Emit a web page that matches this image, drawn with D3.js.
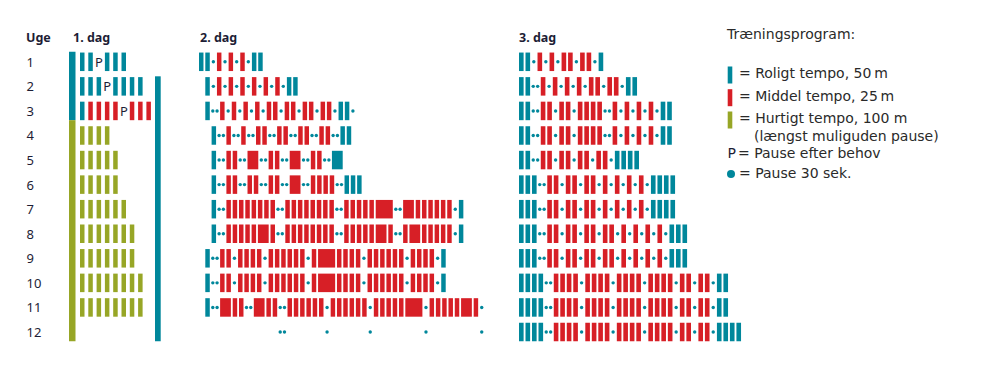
<!DOCTYPE html>
<html><head><meta charset="utf-8">
<script src="https://cdn.jsdelivr.net/npm/d3@7"></script>
<style>body{margin:0;background:#fff}svg{display:block}</style>
</head><body>
<svg id="c" width="994" height="368"></svg>
<script>
// ---------- DATA ----------
const weeks = [1,2,3,4,5,6,7,8,9,10,11,12];
const weekLabel = "Uge";
const dayTitles = ["1. dag","2. dag","3. dag"];
// b = roligt (blue), r = middel (red), g = hurtigt (green), P = pause efter behov
// uppercase = bar merged with previous bar, . = pause 30 sek, x = empty slot, space = empty pause
const day1Rows = ["bbPbbb","bbbPbbbb","brrrrPrrr","gggg","ggggg","ggggg","gggggg","ggggggg","ggggggg","gggggggg","gggggggg",""];
const day1LeftSpans = [{t:"b",from:1,to:3},{t:"g",from:4,to:12}];
const day1RightSpans = [{t:"b",from:2,to:12}];
const day2Rows = [
  "bb.r.r.r.bb",
  "xb.r.r.r.r.r.r.bb",
  "xb..r.r.r.r.rr.rr.rr.rr.bb.",
  "xxb..r..r..rr..rr..rr..rr..bb",
  "xxb..rr..rR..rr..rR..rr..bB",
  "xxb..rr..rr..rr..rR..rrrr..bbb",
  "xxb..rrrrrrrr..rrrrrrrr..rrrrrrRR..rRrrrrrr.b",
  "xxb..rrrrrrRr..rrrrrrrr..rrrrrrRr..rrRrrrrr.b",
  "xb..rr.rrrr.rrrrrr.rrRRrrrr.rrrrrr.rrrr.b",
  "xb..rr.rrrr.rrrrrr.rrRRrrrr.rrrrrr.rrrr.b",
  "xb..rRrr..rRrr..rrrrrr.rrrrrr.rrrrrrRR.rrrrrrRr.",
  "xx  xxxx  xxxx..xxxxxx.xxxxxx.xxxxxxxx.xxxxxxxx."
];
const day3Rows = [
  "bb.r.r.rr.rr.b",
  "bb..r.r.r.r.rr.rr.bb",
  "bb..rr.rr.rrrr..r.r.r.r.bb",
  "bb..rr.rr.rrrr..r.r.r.r.bb",
  "bb..rr.rr.rr.rr.bbbb",
  "bbb..rr.rr.rr.r.r.r.r.bbbb",
  "bbb..rr.rr.rr.r.r.r.r.bbbb",
  "bbb..rr.rr.rr.rr.r.r.r.r.bbb",
  "bbb..rr.rr.rr.rr.r.r.r.r.bbb",
  "bbbb..rrrr.rrrr.rrrr.rrrr.rr.rr.bb",
  "bbbb..rrrr.rrrr.rrrr.rrrr.rr.rr.bb",
  "bbbb..rrrr.rrrr.rrrr.rrrr.rr.rr.bbbb"
];
const legendTitle = "Træningsprogram:";
const legendKeys = ["b","r","g","P","dot"];
const legendLabels = ["= Roligt tempo, 50\u2009m","= Middel tempo, 25\u2009m","= Hurtigt tempo, 100 m","= Pause efter behov","= Pause 30 sek."];
const legendNote = "(længst muliguden pause)";

// ---------- STYLE ----------
const colors = {b:"#00879b", r:"#d71f26", g:"#97a626"};
const textColor = "#1d1d35";
const font = "'Noto Sans', 'DejaVu Sans', sans-serif";
const lfont = "'DejaVu Sans', 'Noto Sans', sans-serif";
const barH = 18.5;
const W = 0.71, E1 = 0.85, E2 = 1.35, DS = 0.68;

const svg = d3.select("#c");
const y = d3.scalePoint().domain(weeks).range([61.8, 332]);

function layout(str){
  const bars=[], dots=[], ps=[];
  let x=0, last=null, i=0;
  while(i<str.length){
    const c=str[i];
    if("brg".includes(c)){ last={x,w:W,t:c}; bars.push(last); x+=1; i++; }
    else if("BRG".includes(c)){ last.w+=1; x+=1; i++; }
    else if(c==="x"){ x+=1; i++; }
    else if(c==="P"){ ps.push({x}); x+=1; i++; }
    else {
      let j=i; while(j<str.length && (str[j]==="."||str[j]===" ")) j++;
      const n=j-i, extra = n===1?E1:E2;
      const mid = ((x-1+W)+(x+extra))/2;
      for(let k=0;k<n;k++) if(str[i+k]===".") dots.push({x:mid+(k-(n-1)/2)*DS});
      x+=extra; i=j;
    }
  }
  return {bars,dots,ps};
}

function drawDay(rows, xs, g, fixedW){
  rows.forEach((s,ri)=>{
    const L = layout(s), cy = y(weeks[ri]);
    g.selectAll(null).data(L.bars).join("rect")
      .attr("x",d=>xs(d.x)).attr("y",cy-barH/2)
      .attr("width",d=>fixedW || (xs(d.x+d.w)-xs(d.x))).attr("height",barH)
      .attr("fill",d=>colors[d.t]);
    g.selectAll(null).data(L.dots).join("circle")
      .attr("cx",d=>xs(d.x)).attr("cy",cy).attr("r",1.7).attr("fill",colors.b);
    g.selectAll(null).data(L.ps).join("text")
      .attr("x",d=>xs(d.x+0.28)).attr("y",cy+5).attr("text-anchor","middle")
      .attr("font-family",font).attr("font-size",13).attr("fill",textColor).text("P");
  });
}

// Day 1 (own slot scale)
const x1 = d3.scaleLinear().domain([0,1]).range([80,88.3]);
drawDay(day1Rows, x1, svg.append("g"), 4.5);

function spans(list, x0, w){
  let prevBottom=null;
  list.forEach(s=>{
    const top = prevBottom!==null ? prevBottom : y(s.from)-barH/2 - 0.8;
    const bottom = y(s.to)+barH/2;
    svg.append("rect").attr("x",x0).attr("y",top).attr("width",w).attr("height",bottom-top).attr("fill",colors[s.t]);
    prevBottom=bottom;
  });
}
spans(day1LeftSpans, 69, 6.5);
spans(day1RightSpans, 155, 5.7);

// Day 2 and 3
const x2 = d3.scaleLinear().domain([0,1]).range([199,205.3]);
drawDay(day2Rows, x2, svg.append("g"));
const x3 = d3.scaleLinear().domain([0,1]).range([519,525.5]);
drawDay(day3Rows, x3, svg.append("g"));

// Labels
svg.append("text").attr("x",26).attr("y",42).attr("font-family",font).attr("font-weight","bold")
  .attr("font-size",12.5).attr("fill",textColor).text(weekLabel);
svg.selectAll(".wk").data(weeks).join("text").attr("class","wk")
  .attr("x",26.5).attr("y",d=>y(d)+5).attr("font-family",font).attr("font-size",13)
  .attr("fill",textColor).text(d=>d);
const titleX = [73,200,519];
svg.selectAll(".dt").data(dayTitles).join("text").attr("class","dt")
  .attr("x",(d,i)=>titleX[i]).attr("y",42).attr("font-family",font).attr("font-weight","bold")
  .attr("font-size",12.5).attr("fill",textColor).text(d=>d);

// Legend
const lg = svg.append("g");
const lfs = 14;
lg.append("text").attr("x",727).attr("y",39).attr("font-family",lfont).attr("font-size",lfs)
  .attr("fill","#2a2a2a").text(legendTitle);
const ly = [78,100.7,123,158,178];
legendKeys.forEach((k,i)=>{
  if(colors[k]) lg.append("rect").attr("x",727.7).attr("y",ly[i]-11.5).attr("width",4.6).attr("height",17).attr("fill",colors[k]);
  else if(k==="P") lg.append("text").attr("x",727.5).attr("y",ly[i]).attr("font-family",lfont).attr("font-size",lfs).attr("fill",textColor).text("P");
  else lg.append("circle").attr("cx",731).attr("cy",ly[i]-4).attr("r",4).attr("fill",colors.b);
  lg.append("text").attr("x",k==="P"?738:739).attr("y",ly[i]).attr("font-family",lfont).attr("font-size",lfs)
    .attr("fill","#2a2a2a").text(legendLabels[i]);
});
lg.append("text").attr("x",754).attr("y",140.5).attr("font-family",lfont).attr("font-size",lfs)
  .attr("fill","#2a2a2a").text(legendNote);
</script>
</body></html>
